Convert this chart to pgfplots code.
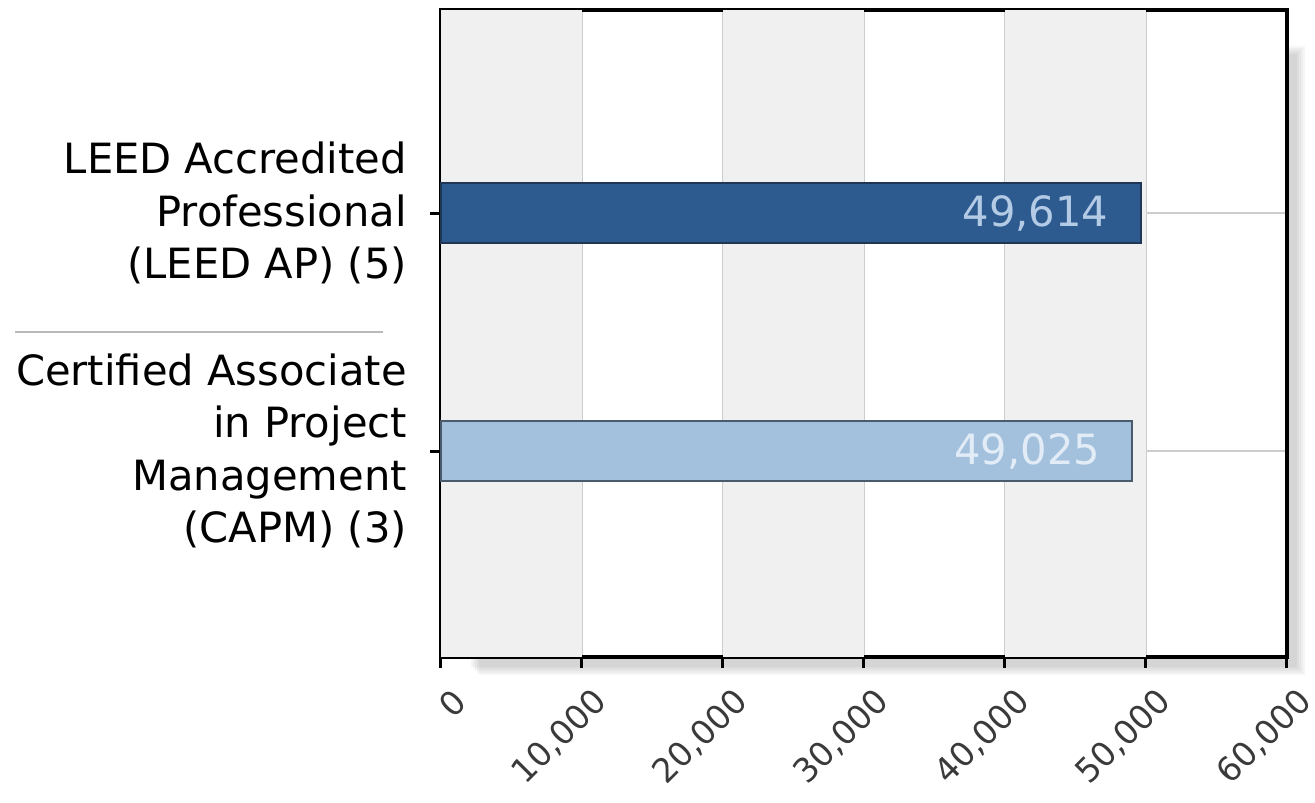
\documentclass[border=0pt]{standalone}
\usepackage{pgfplots}
\pgfplotsset{compat=1.18}
\usepackage{fontspec}
\setmainfont{DejaVu Sans}

\definecolor{bardark}{HTML}{2E5B8F}
\definecolor{bardarkedge}{HTML}{1F3654}
\definecolor{barlight}{HTML}{A3C1DD}
\definecolor{barlightedge}{HTML}{4B5B6E}
\definecolor{band}{HTML}{F0F0F0}
\definecolor{gridc}{HTML}{CDCDCD}
\definecolor{ticktext}{HTML}{3A3A3A}
\definecolor{labdark}{HTML}{B4CBE6}
\definecolor{lablight}{HTML}{E2ECF7}

\begin{document}
\begin{tikzpicture}
% page size: 1315x803 px at 0.3pt per px, axis lower left at origin
\path[use as bounding box] (-132.3pt,-43.8pt) rectangle (262.2pt,197.1pt);
% soft shadow right and below the frame
\foreach \d in {1,2,3,4,5}{
  \fill[black,opacity=0.035] (12pt-\d*0.6pt,-6pt+\d*0.6pt) rectangle (259.8pt-\d*0.6pt,184pt-\d*0.6pt);
}
\begin{axis}[
    at={(0,0)}, anchor=south west,
    scale only axis,
    width=253.8pt, height=194.1pt,
    xbar, bar width=0.252, bar shift=0pt,
    xmin=0, xmax=60000,
    ymin=-0.8655, ymax=1.853,
    axis background/.style={fill=white},
    axis line style={black, line width=1pt},
    xtick={0,10000,20000,30000,40000,50000,60000},
    xticklabels={0,{10,000},{20,000},{30,000},{40,000},{50,000},{60,000}},
    ytick={0,1},
    yticklabels={{Certified Associate\\in Project\\Management\\(CAPM) (3)},
                 {LEED Accredited\\Professional\\(LEED AP) (5)}},
    xtick pos=bottom, ytick pos=left,
    tick align=outside,
    major tick length=3.2pt,
    tick style={black, line width=0.9pt},
    xmajorgrids, ymajorgrids,
    major grid style={gridc, line width=0.6pt},
    yticklabel style={font=\fontsize{12.5}{15.75}\selectfont, text=black,
        align=right, xshift=-3.5pt},
    xticklabel style={font=\fontsize{10}{12}\selectfont, text=ticktext,
        rotate=45, anchor=east, xshift=1.5pt, yshift=-10pt},
    point meta=explicit symbolic,
    nodes near coords,
    nodes near coords style={anchor=east, xshift=-6pt,
        font=\fontsize{12.5}{15}\selectfont},
    clip=false,
]
% alternating background bands
\fill[band] (axis cs:0,-0.8655) rectangle (axis cs:10000,1.853);
\fill[band] (axis cs:20000,-0.8655) rectangle (axis cs:30000,1.853);
\fill[band] (axis cs:40000,-0.8655) rectangle (axis cs:50000,1.853);

\addplot[fill=bardark, draw=bardarkedge, line width=0.6pt,
    every node near coord/.append style={text=labdark}]
    coordinates {(49614,1) [49,614]};
\addplot[fill=barlight, draw=barlightedge, line width=0.6pt,
    every node near coord/.append style={text=lablight}]
    coordinates {(49025,0) [49,025]};

% separator between the category labels
\draw[gray!55, line width=0.6pt] ([xshift=-127.8pt]axis cs:0,0.5) -- ([xshift=-17.4pt]axis cs:0,0.5);
\end{axis}
\end{tikzpicture}
\end{document}
